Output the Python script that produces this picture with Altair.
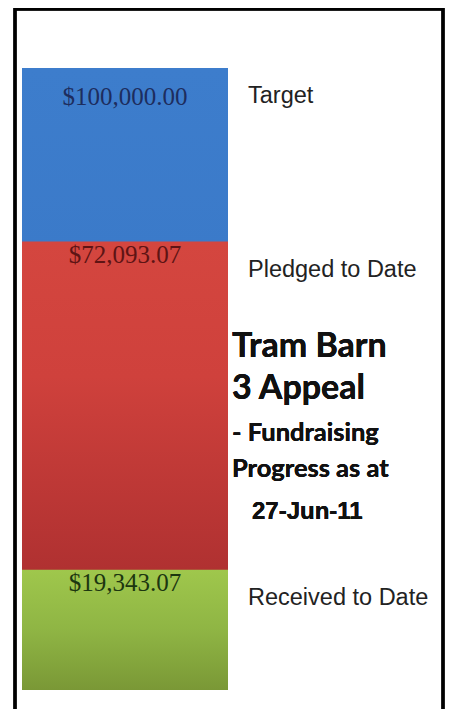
import altair as alt
import pandas as pd

categories = ["Target", "Pledged to Date", "Received to Date"]
amounts = [100000.00, 72093.07, 19343.07]
label_colors = ["#1d2d5e", "#5e1414", "#1c3610"]
title_lines = ["Tram Barn", "3 Appeal"]
sub_lines = ["- Fundraising", "Progress as at"]
date_line = "27-Jun-11"

df = pd.DataFrame({"group": ["Appeal"] * 3, "category": categories, "amount": amounts})

base = alt.Chart(df)

xenc = alt.X("group:N", scale=alt.Scale(paddingInner=0, paddingOuter=0), axis=None)
yscale = alt.Scale(domain=[0, 100000], nice=False, zero=True)


def grad(stops):
    return alt.Gradient(
        gradient="linear",
        stops=[alt.GradientStop(offset=o, color=c) for o, c in stops],
        x1=0, x2=0, y1=0, y2=1,
    )


blue = base.transform_filter(alt.datum.category == "Target").mark_bar(
    color=grad([(0, "#3d7dcc"), (1, "#3673c2")])
).encode(
    x=xenc,
    y=alt.Y("amount:Q", scale=yscale,
            axis=alt.Axis(orient="right", labels=False, ticks=False, grid=False,
                          title=None, domainColor="#111111", domainWidth=2.5)),
)

red = base.transform_filter(alt.datum.category == "Pledged to Date").mark_bar(
    color=grad([(0, "#d4463f"), (0.3, "#cf413c"), (0.73, "#b03131"), (1, "#b03131")])
).encode(x=xenc, y=alt.Y("amount:Q", scale=yscale, axis=None))

green = base.transform_filter(alt.datum.category == "Received to Date").mark_bar(
    color=grad([(0, "#9fc74c"), (0.5, "#8fb544"), (1, "#7a9836")])
).encode(x=xenc, y=alt.Y("amount:Q", scale=yscale, axis=None))

color_enc = alt.Color("category:N", scale=alt.Scale(domain=categories, range=label_colors), legend=None)

top_val = base.transform_filter(alt.datum.category == "Target").mark_text(
    font="Liberation Serif", fontSize=25, baseline="top", dy=17
).encode(x=xenc, y=alt.Y("amount:Q", scale=yscale, axis=None),
         text=alt.Text("amount:Q", format="$,.2f"), color=color_enc)

other_val = base.transform_filter(alt.datum.category != "Target").mark_text(
    font="Liberation Serif", fontSize=25, baseline="top", dy=1
).encode(x=xenc, y=alt.Y("amount:Q", scale=yscale, axis=None),
         text=alt.Text("amount:Q", format="$,.2f"), color=color_enc)

side = base.mark_text(
    font="Liberation Sans", fontSize=23.5, align="left", baseline="middle", dy=28, color="#222222"
).encode(x=alt.value(226), y=alt.Y("amount:Q", scale=yscale, axis=None), text="category:N")

t1 = alt.Chart(df).mark_text(text=title_lines[0], font="Lato", fontWeight="bold", fontSize=34,
                             align="left", baseline="alphabetic", color="#111111").encode(
    x=alt.value(210), y=alt.value(289))
t2 = alt.Chart(df).mark_text(text=title_lines[1], font="Lato", fontWeight="bold", fontSize=34,
                             align="left", baseline="alphabetic", color="#111111").encode(
    x=alt.value(210), y=alt.value(331))
t3 = alt.Chart(df).mark_text(text=sub_lines[0], font="Lato", fontWeight="bold", fontSize=25.5,
                             align="left", baseline="alphabetic", color="#111111").encode(
    x=alt.value(210), y=alt.value(373))
t4 = alt.Chart(df).mark_text(text=sub_lines[1], font="Lato", fontWeight="bold", fontSize=25.5,
                             align="left", baseline="alphabetic", color="#111111").encode(
    x=alt.value(210), y=alt.value(409))
t5 = alt.Chart(df).mark_text(text=date_line, font="Liberation Sans", fontWeight="bold", fontSize=24,
                             align="left", baseline="alphabetic", color="#111111").encode(
    x=alt.value(230), y=alt.value(451))

frame = alt.Chart(df).mark_rect(fill=None, stroke="#000000", strokeWidth=3).encode(
    x=alt.value(-7), x2=alt.value(421), y=alt.value(-59), y2=alt.value(670))

chart = alt.layer(
    frame, blue, red, green, top_val, other_val, side, t1, t2, t3, t4, t5
).properties(
    width=206, height=622,
    padding={"left": 14, "top": 60, "right": 217, "bottom": 19},
    autosize=alt.AutoSizeParams(type="none"),
).configure_view(stroke=None)

chart.save("out.html", embed_options={"renderer": "svg", "actions": False})
